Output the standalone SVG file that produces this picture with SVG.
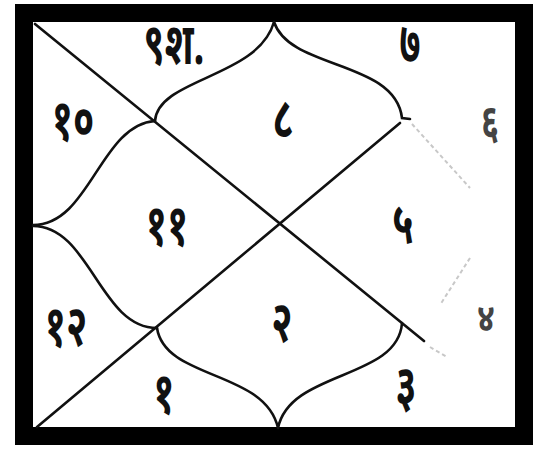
<svg xmlns="http://www.w3.org/2000/svg" width="540" height="451" viewBox="0 0 540 451">
<style>
.ln{fill:none;stroke:#111;stroke-width:2.6;stroke-linecap:round}
.fd{fill:none;stroke:#c8c8c8;stroke-width:2;stroke-dasharray:4 3}
.t{font-family:"Noto Sans Devanagari","Lohit Devanagari","FreeSans","Noto Sans","DejaVu Sans",sans-serif;font-size:38px;font-weight:bold;fill:#111;text-anchor:middle}
.tf{fill:#444;font-size:32px}
</style>
<rect x="0" y="0" width="540" height="451" fill="#fff"/>
<g id="frame"><rect x="24" y="13" width="500" height="423" fill="none" stroke="#000" stroke-width="18"/></g>
<g id="connectors">
<path class="ln" d="M35,24 L424,341"/>
<path class="ln" d="M37,427 L400,123"/>
<path class="ln" d="M155,121 C158,78 258,78 274,22"/>
<path class="ln" d="M274,22 C290,70 395,60 402,118 L410,119"/>
<path class="ln" d="M33,225 C90,225 100,125 155,121"/>
<path class="ln" d="M33,226 C90,226 100,328 157,328"/>
<path class="ln" d="M157,328 C165,380 265,370 278,428"/>
<path class="ln" d="M278,428 C290,370 398,380 402,323"/>
<path class="fd" d="M412,124 L470,188"/>
<path class="fd" d="M470,258 L440,305"/>
<path class="fd" d="M430,347 L447,357"/>
</g>
<g id="labels">
<g id="h9"><text class="t" transform="translate(174,64) scale(1,1.5)">९श.</text></g>
<g id="h8"><text class="t" transform="translate(283,138) scale(1,1.5)">८</text></g>
<g id="h7"><text class="t" transform="translate(410,63) scale(1,1.5)">७</text></g>
<g id="h6"><text class="t tf" transform="translate(490,138) scale(1,1.5)">६</text></g>
<g id="h10"><text class="t" transform="translate(73,140) scale(1,1.5)">१०</text></g>
<g id="h11"><text class="t" transform="translate(167,245) scale(1,1.5)">११</text></g>
<g id="h5"><text class="t" transform="translate(403,243) scale(1,1.5)">५</text></g>
<g id="h12"><text class="t" transform="translate(66,346) scale(1,1.5)">१२</text></g>
<g id="h2"><text class="t" transform="translate(282,342) scale(1,1.5)">२</text></g>
<g id="h4"><text class="t tf" transform="translate(486,331) scale(1,1.2)">४</text></g>
<g id="h1"><text class="t" transform="translate(164,413) scale(1,1.5)">१</text></g>
<g id="h3"><text class="t" transform="translate(406,406) scale(1,1.5)">३</text></g>
</g>
</svg>
